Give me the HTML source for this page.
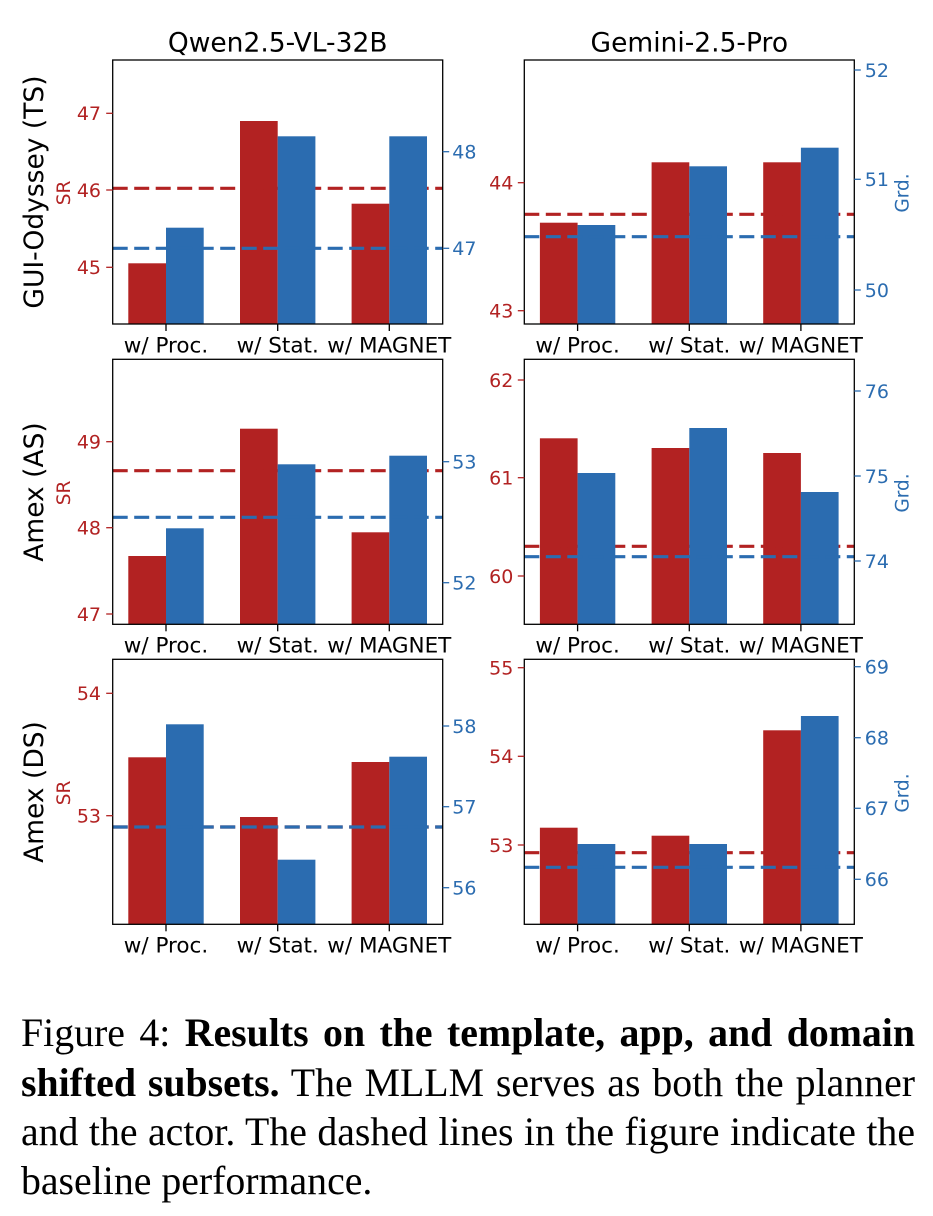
<!DOCTYPE html>
<html>
<head>
<meta charset="utf-8">
<style>
  html, body { margin: 0; padding: 0; background: #ffffff; }
  body { width: 933px; height: 1216px; position: relative; overflow: hidden; }
  svg { position: absolute; left: 0; top: 0; }
  .cap {
    position: absolute; left: 21px; top: 1009.2px; width: 894px;
    font-family: "Liberation Serif", "Times New Roman", serif;
    font-size: 39.8px; line-height: 49.4px; color: #000;
  }
  .cap div { text-align: justify; text-align-last: justify; white-space: nowrap; }
  .cap div.last { text-align: left; text-align-last: left; }
  .cap b { font-weight: bold; }
</style>
</head>
<body>
<svg width="933" height="1000" viewBox="0 0 933 1000" xmlns="http://www.w3.org/2000/svg" font-family="DejaVu Sans, Liberation Sans, sans-serif">
  <!-- Titles -->
  <text x="277.7" y="51.7" font-size="26.5" text-anchor="middle" fill="#000">Qwen2.5-VL-32B</text>
  <text x="689.3" y="51.7" font-size="26.5" text-anchor="middle" fill="#000">Gemini-2.5-Pro</text>

  <!-- Row labels -->
  <text transform="translate(43,192) rotate(-90)" font-size="26.5" text-anchor="middle" fill="#000">GUI-Odyssey (TS)</text>
  <text transform="translate(43,492) rotate(-90)" font-size="26.5" text-anchor="middle" fill="#000">Amex (AS)</text>
  <text transform="translate(43,792) rotate(-90)" font-size="26.5" text-anchor="middle" fill="#000">Amex (DS)</text>

  <!-- SR labels -->
  <g font-size="18.5" fill="#b22222" text-anchor="middle">
    <text transform="translate(70,193) rotate(-90)">SR</text>
    <text transform="translate(70,493) rotate(-90)">SR</text>
    <text transform="translate(70,793) rotate(-90)">SR</text>
  </g>
  <!-- Grd labels -->
  <g font-size="18.5" fill="#2b6cb0" text-anchor="middle">
    <text transform="translate(908.5,193) rotate(-90)">Grd.</text>
    <text transform="translate(908.5,493) rotate(-90)">Grd.</text>
    <text transform="translate(908.5,793) rotate(-90)">Grd.</text>
  </g>

  <!-- ============ ROW 1 ============ -->
  <g fill="#b22222">
    <rect x="128.3" y="263.3" width="37.7" height="60.7"/>
    <rect x="240" y="121" width="37.7" height="203"/>
    <rect x="351.6" y="203.7" width="37.7" height="120.3"/>
  </g>
  <line x1="112.7" y1="188.3" x2="442.7" y2="188.3" stroke="#b22222" stroke-width="3.2" stroke-dasharray="15 6.5"/>
  <g fill="#2b6cb0">
    <rect x="166" y="227.7" width="37.7" height="96.3"/>
    <rect x="277.7" y="136.3" width="37.7" height="187.7"/>
    <rect x="389.3" y="136.3" width="37.7" height="187.7"/>
  </g>
  <line x1="112.7" y1="248.3" x2="442.7" y2="248.3" stroke="#2b6cb0" stroke-width="3.2" stroke-dasharray="15 6.5"/>
  <rect x="112.7" y="60" width="330" height="264" fill="none" stroke="#000" stroke-width="1.3"/>

  <g fill="#b22222">
    <rect x="539.9" y="222.7" width="37.7" height="101.3"/>
    <rect x="651.6" y="162.3" width="37.7" height="161.7"/>
    <rect x="763.2" y="162.3" width="37.7" height="161.7"/>
  </g>
  <line x1="524.3" y1="214.3" x2="854.3" y2="214.3" stroke="#b22222" stroke-width="3.2" stroke-dasharray="15 6.5"/>
  <g fill="#2b6cb0">
    <rect x="577.6" y="225" width="37.7" height="99"/>
    <rect x="689.3" y="166.3" width="37.7" height="157.7"/>
    <rect x="800.9" y="147.7" width="37.7" height="176.3"/>
  </g>
  <line x1="524.3" y1="236.7" x2="854.3" y2="236.7" stroke="#2b6cb0" stroke-width="3.2" stroke-dasharray="15 6.5"/>
  <rect x="524.3" y="60" width="330" height="264" fill="none" stroke="#000" stroke-width="1.3"/>

  <!-- ============ ROW 2 ============ -->
  <g fill="#b22222">
    <rect x="128.3" y="556" width="37.7" height="68.3"/>
    <rect x="240" y="428.7" width="37.7" height="195.6"/>
    <rect x="351.6" y="532.3" width="37.7" height="92"/>
  </g>
  <line x1="112.7" y1="470.7" x2="442.7" y2="470.7" stroke="#b22222" stroke-width="3.2" stroke-dasharray="15 6.5"/>
  <g fill="#2b6cb0">
    <rect x="166" y="528.3" width="37.7" height="96"/>
    <rect x="277.7" y="464.3" width="37.7" height="160"/>
    <rect x="389.3" y="455.7" width="37.7" height="168.6"/>
  </g>
  <line x1="112.7" y1="517.3" x2="442.7" y2="517.3" stroke="#2b6cb0" stroke-width="3.2" stroke-dasharray="15 6.5"/>
  <rect x="112.7" y="359.3" width="330" height="265" fill="none" stroke="#000" stroke-width="1.3"/>

  <g fill="#b22222">
    <rect x="539.9" y="438.3" width="37.7" height="186"/>
    <rect x="651.6" y="448" width="37.7" height="176.3"/>
    <rect x="763.2" y="453" width="37.7" height="171.3"/>
  </g>
  <line x1="524.3" y1="546.3" x2="854.3" y2="546.3" stroke="#b22222" stroke-width="3.2" stroke-dasharray="15 6.5"/>
  <g fill="#2b6cb0">
    <rect x="577.6" y="473" width="37.7" height="151.3"/>
    <rect x="689.3" y="428" width="37.7" height="196.3"/>
    <rect x="800.9" y="492" width="37.7" height="132.3"/>
  </g>
  <line x1="524.3" y1="556.7" x2="854.3" y2="556.7" stroke="#2b6cb0" stroke-width="3.2" stroke-dasharray="15 6.5"/>
  <rect x="524.3" y="359.3" width="330" height="265" fill="none" stroke="#000" stroke-width="1.3"/>

  <!-- ============ ROW 3 ============ -->
  <g fill="#b22222">
    <rect x="128.3" y="757.3" width="37.7" height="167"/>
    <rect x="240" y="817" width="37.7" height="107.3"/>
    <rect x="351.6" y="762" width="37.7" height="162.3"/>
  </g>
  <line x1="112.7" y1="827" x2="442.7" y2="827" stroke="#b22222" stroke-width="3.2" stroke-dasharray="15 6.5"/>
  <g fill="#2b6cb0">
    <rect x="166" y="724.3" width="37.7" height="200"/>
    <rect x="277.7" y="859.7" width="37.7" height="64.6"/>
    <rect x="389.3" y="756.7" width="37.7" height="167.6"/>
  </g>
  <line x1="112.7" y1="827" x2="442.7" y2="827" stroke="#2b6cb0" stroke-width="3.2" stroke-dasharray="15 6.5"/>
  <rect x="112.7" y="659.3" width="330" height="265" fill="none" stroke="#000" stroke-width="1.3"/>

  <g fill="#b22222">
    <rect x="539.9" y="827.7" width="37.7" height="96.6"/>
    <rect x="651.6" y="835.7" width="37.7" height="88.6"/>
    <rect x="763.2" y="730.3" width="37.7" height="194"/>
  </g>
  <line x1="524.3" y1="852.7" x2="854.3" y2="852.7" stroke="#b22222" stroke-width="3.2" stroke-dasharray="15 6.5"/>
  <g fill="#2b6cb0">
    <rect x="577.6" y="844" width="37.7" height="80.3"/>
    <rect x="689.3" y="844" width="37.7" height="80.3"/>
    <rect x="800.9" y="716" width="37.7" height="208.3"/>
  </g>
  <line x1="524.3" y1="867.3" x2="854.3" y2="867.3" stroke="#2b6cb0" stroke-width="3.2" stroke-dasharray="15 6.5"/>
  <rect x="524.3" y="659.3" width="330" height="265" fill="none" stroke="#000" stroke-width="1.3"/>

  <!-- ============ X ticks & labels ============ -->
  <g stroke="#000" stroke-width="1.3">
    <line x1="166" y1="324" x2="166" y2="331"/>
    <line x1="277.7" y1="324" x2="277.7" y2="331"/>
    <line x1="389.3" y1="324" x2="389.3" y2="331"/>
    <line x1="577.6" y1="324" x2="577.6" y2="331"/>
    <line x1="689.3" y1="324" x2="689.3" y2="331"/>
    <line x1="800.9" y1="324" x2="800.9" y2="331"/>
    <line x1="166" y1="624.3" x2="166" y2="631.3"/>
    <line x1="277.7" y1="624.3" x2="277.7" y2="631.3"/>
    <line x1="389.3" y1="624.3" x2="389.3" y2="631.3"/>
    <line x1="577.6" y1="624.3" x2="577.6" y2="631.3"/>
    <line x1="689.3" y1="624.3" x2="689.3" y2="631.3"/>
    <line x1="800.9" y1="624.3" x2="800.9" y2="631.3"/>
    <line x1="166" y1="924.3" x2="166" y2="931.3"/>
    <line x1="277.7" y1="924.3" x2="277.7" y2="931.3"/>
    <line x1="389.3" y1="924.3" x2="389.3" y2="931.3"/>
    <line x1="577.6" y1="924.3" x2="577.6" y2="931.3"/>
    <line x1="689.3" y1="924.3" x2="689.3" y2="931.3"/>
    <line x1="800.9" y1="924.3" x2="800.9" y2="931.3"/>
  </g>
  <g font-size="21.5" fill="#000" text-anchor="middle">
    <text x="166" y="352.5">w/ Proc.</text>
    <text x="277.7" y="352.5">w/ Stat.</text>
    <text x="389.3" y="352.5">w/ MAGNET</text>
    <text x="577.6" y="352.5">w/ Proc.</text>
    <text x="689.3" y="352.5">w/ Stat.</text>
    <text x="800.9" y="352.5">w/ MAGNET</text>
    <text x="166" y="652.7">w/ Proc.</text>
    <text x="277.7" y="652.7">w/ Stat.</text>
    <text x="389.3" y="652.7">w/ MAGNET</text>
    <text x="577.6" y="652.7">w/ Proc.</text>
    <text x="689.3" y="652.7">w/ Stat.</text>
    <text x="800.9" y="652.7">w/ MAGNET</text>
    <text x="166" y="952.7">w/ Proc.</text>
    <text x="277.7" y="952.7">w/ Stat.</text>
    <text x="389.3" y="952.7">w/ MAGNET</text>
    <text x="577.6" y="952.7">w/ Proc.</text>
    <text x="689.3" y="952.7">w/ Stat.</text>
    <text x="800.9" y="952.7">w/ MAGNET</text>
  </g>

  <!-- ============ Left (SR) y ticks ============ -->
  <g stroke="#b22222" stroke-width="1.3">
    <line x1="106.2" y1="113.3" x2="112.7" y2="113.3"/>
    <line x1="106.2" y1="190" x2="112.7" y2="190"/>
    <line x1="106.2" y1="267.3" x2="112.7" y2="267.3"/>
    <line x1="517.8" y1="182.7" x2="524.3" y2="182.7"/>
    <line x1="517.8" y1="310.7" x2="524.3" y2="310.7"/>
    <line x1="106.2" y1="441.7" x2="112.7" y2="441.7"/>
    <line x1="106.2" y1="527.7" x2="112.7" y2="527.7"/>
    <line x1="106.2" y1="614" x2="112.7" y2="614"/>
    <line x1="517.8" y1="380" x2="524.3" y2="380"/>
    <line x1="517.8" y1="477.7" x2="524.3" y2="477.7"/>
    <line x1="517.8" y1="576" x2="524.3" y2="576"/>
    <line x1="106.2" y1="693.3" x2="112.7" y2="693.3"/>
    <line x1="106.2" y1="815.7" x2="112.7" y2="815.7"/>
    <line x1="517.8" y1="667.7" x2="524.3" y2="667.7"/>
    <line x1="517.8" y1="756.3" x2="524.3" y2="756.3"/>
    <line x1="517.8" y1="845" x2="524.3" y2="845"/>
  </g>
  <g font-size="19" fill="#b22222" text-anchor="end">
    <text x="101" y="120.2">47</text>
    <text x="101" y="196.9">46</text>
    <text x="101" y="274.2">45</text>
    <text x="513.3" y="189.6">44</text>
    <text x="513.3" y="317.6">43</text>
    <text x="101" y="448.6">49</text>
    <text x="101" y="534.6">48</text>
    <text x="101" y="620.9">47</text>
    <text x="513.3" y="386.9">62</text>
    <text x="513.3" y="484.6">61</text>
    <text x="513.3" y="582.9">60</text>
    <text x="101" y="700.2">54</text>
    <text x="101" y="822.6">53</text>
    <text x="513.3" y="674.6">55</text>
    <text x="513.3" y="763.2">54</text>
    <text x="513.3" y="851.9">53</text>
  </g>

  <!-- ============ Right (Grd) y ticks ============ -->
  <g stroke="#2b6cb0" stroke-width="1.3">
    <line x1="442.7" y1="151.7" x2="449.2" y2="151.7"/>
    <line x1="442.7" y1="248.3" x2="449.2" y2="248.3"/>
    <line x1="854.3" y1="70" x2="860.8" y2="70"/>
    <line x1="854.3" y1="179.3" x2="860.8" y2="179.3"/>
    <line x1="854.3" y1="290" x2="860.8" y2="290"/>
    <line x1="442.7" y1="461.7" x2="449.2" y2="461.7"/>
    <line x1="442.7" y1="582.7" x2="449.2" y2="582.7"/>
    <line x1="854.3" y1="391" x2="860.8" y2="391"/>
    <line x1="854.3" y1="476" x2="860.8" y2="476"/>
    <line x1="854.3" y1="561" x2="860.8" y2="561"/>
    <line x1="442.7" y1="726" x2="449.2" y2="726"/>
    <line x1="442.7" y1="806.7" x2="449.2" y2="806.7"/>
    <line x1="442.7" y1="887.7" x2="449.2" y2="887.7"/>
    <line x1="854.3" y1="666.7" x2="860.8" y2="666.7"/>
    <line x1="854.3" y1="737.7" x2="860.8" y2="737.7"/>
    <line x1="854.3" y1="808.3" x2="860.8" y2="808.3"/>
    <line x1="854.3" y1="879.3" x2="860.8" y2="879.3"/>
  </g>
  <g font-size="19" fill="#2b6cb0" text-anchor="start">
    <text x="452.3" y="158.6">48</text>
    <text x="452.3" y="255.2">47</text>
    <text x="864.8" y="76.9">52</text>
    <text x="864.8" y="186.2">51</text>
    <text x="864.8" y="296.9">50</text>
    <text x="452.3" y="468.6">53</text>
    <text x="452.3" y="589.6">52</text>
    <text x="864.8" y="397.9">76</text>
    <text x="864.8" y="482.9">75</text>
    <text x="864.8" y="567.9">74</text>
    <text x="452.3" y="732.9">58</text>
    <text x="452.3" y="813.6">57</text>
    <text x="452.3" y="894.6">56</text>
    <text x="864.8" y="673.6">69</text>
    <text x="864.8" y="744.6">68</text>
    <text x="864.8" y="815.2">67</text>
    <text x="864.8" y="886.2">66</text>
  </g>
</svg>

<div class="cap">
  <div>Figure 4: <b>Results on the template, app, and domain</b></div>
  <div><b>shifted subsets.</b> The MLLM serves as both the planner</div>
  <div>and the actor. The dashed lines in the figure indicate the</div>
  <div class="last">baseline performance.</div>
</div>
</body>
</html>
